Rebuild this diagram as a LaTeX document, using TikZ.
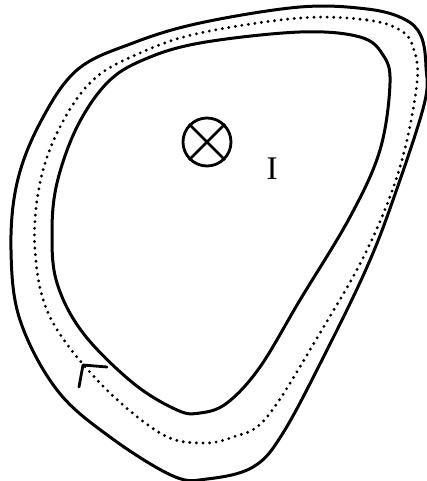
\documentclass[tikz,border=0pt]{standalone}
\usepackage{fontspec}
\setmainfont{Liberation Serif}
\begin{document}
\begin{tikzpicture}[x=1pt,y=-1pt,
  wall/.style={line width=3pt, line join=round},
  path/.style={line width=3.2pt, line cap=round, dash pattern=on 0pt off 6.6pt},
  every node/.style={inner sep=0pt}]
\useasboundingbox (0,0) rectangle (427,481);
% outer wall
\draw[wall] plot[smooth cycle, tension=0.6] coordinates {
 (300,7) (367,9) (404,19) (421,36) (426,67) (424,105) (393,200) (367,267) (327,350)
 (283,433) (253,467) (207,479) (173,476) (110,437) (57,390) (20,320) (11,250)
 (17,183) (40,123) (77,70) (133,43) (200,23)};
% inner wall
\draw[wall] plot[smooth cycle, tension=0.6] coordinates {
 (300,32) (360,37) (383,55) (390,83) (380,150) (350,217) (300,300) (260,367)
 (227,403) (200,413) (177,410) (133,383) (83,333) (57,283) (52,233) (57,183)
 (77,127) (107,83) (143,60) (200,43)};
% dotted loop
\draw[path] plot[smooth cycle, tension=0.6] coordinates {
 (300,18) (367,20) (400,30) (413,47) (417,83) (400,167) (367,250) (320,333)
 (267,417) (233,437) (200,443) (160,433) (100,383) (50,317) (35,250) (40,183)
 (60,127) (93,80) (140,53) (200,33)};
% arrowhead
\coordinate (tip) at (83,365);
\coordinate (a1) at (107,367);
\coordinate (a2) at (79,387);
\draw[line width=2.8pt, line cap=round, line join=round] (a1) -- (tip) -- (a2);
% current symbol
\node[circle, draw, line width=2.8pt, minimum size=48pt] (cur) at (207,142) {};
\draw[line width=2.8pt] (cur.north west) -- (cur.south east) (cur.north east) -- (cur.south west);
\node[font=\fontsize{33}{33}\selectfont] (I) at (272,169) {I};
\end{tikzpicture}
\end{document}
